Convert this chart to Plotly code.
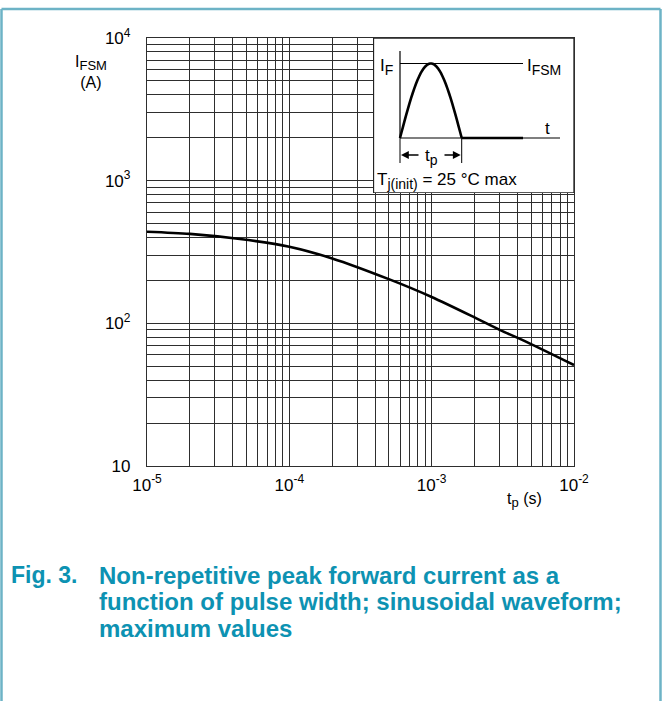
import numpy as np
import plotly.graph_objects as go

# ---- data ----
tp_s = [1e-5, 2e-5, 4.5e-5, 1e-4, 2e-4, 5e-4, 1e-3, 2e-3, 3e-3, 4.4e-3, 1e-2]
ifsm_a = [439, 424, 390, 344, 285, 204, 153, 110, 90, 76, 51]

x_tickvals = [1e-5, 1e-4, 1e-3, 1e-2]
x_ticktext = ["10<sup><span style='font-size:12px'>-5</span></sup>",
              "10<sup><span style='font-size:12px'>-4</span></sup>",
              "10<sup><span style='font-size:12px'>-3</span></sup>",
              "10<sup><span style='font-size:12px'>-2</span></sup>"]
y_tickvals = [10, 100, 1000, 10000]
y_ticktext = ["10",
              "10<sup><span style='font-size:12px'>2</span></sup>",
              "10<sup><span style='font-size:12px'>3</span></sup>",
              "10<sup><span style='font-size:12px'>4</span></sup>"]

caption_lines = [
    "Non-repetitive peak forward current as a",
    "function of pulse width; sinusoidal waveform;",
    "maximum values",
]

# ---- geometry (screen pixels) ----
W_FIG, H_FIG = 662, 701
L, R, T, B = 147, 574, 38, 466
PW, PH = R - L, B - T


def px(x):
    return (x - L) / PW


def py(y):
    return (B - y) / PH


FONT = "Liberation Sans, Arial, sans-serif"
GRID = "#2e2e2e"
TEAL = "#0d92b2"


def sub(s, size):
    return f"<sub><span style='font-size:{size}px'>{s}</span></sub>"


minor_x = [m * 10.0 ** k for k in range(-5, -2) for m in range(2, 10)]
minor_y = [m * 10.0 ** k for k in range(1, 4) for m in range(2, 10)]

fig = go.Figure()
fig.add_trace(go.Scatter(x=tp_s, y=ifsm_a, mode="lines",
                         line=dict(color="black", width=2.6, shape="spline", smoothing=0.8),
                         showlegend=False, hoverinfo="skip"))

# inset subplot in pixel-like units
fig.add_trace(go.Scatter(x=[None], y=[None], xaxis="x2", yaxis="y2", showlegend=False,
                         hoverinfo="skip"))

fig.update_layout(
    width=W_FIG, height=H_FIG,
    margin=dict(l=L, r=W_FIG - R, t=T, b=H_FIG - B, pad=0),
    paper_bgcolor="white", plot_bgcolor="white",
    font=dict(family=FONT, size=16, color="black"),
    hovermode=False,
    xaxis=dict(type="log", range=[-5, -2], tickvals=x_tickvals, ticktext=x_ticktext,
               showgrid=True, gridcolor=GRID, gridwidth=1.2,
               minor=dict(tickvals=minor_x, showgrid=True, gridcolor=GRID, gridwidth=1.2, ticks=""),
               showline=True, linecolor=GRID, linewidth=1.2, mirror=True,
               ticks="", zeroline=False, tickfont=dict(size=17), ticklabelstandoff=3),
    yaxis=dict(type="log", range=[1, 4], tickvals=y_tickvals, ticktext=y_ticktext,
               showgrid=True, gridcolor=GRID, gridwidth=1.2,
               minor=dict(tickvals=minor_y, showgrid=True, gridcolor=GRID, gridwidth=1.2, ticks=""),
               showline=True, linecolor=GRID, linewidth=1.2, mirror=True,
               ticks="", zeroline=False, tickfont=dict(size=17), ticklabelstandoff=12),
    xaxis2=dict(domain=[px(373), 1], range=[373, 574], visible=False, anchor="y2"),
    yaxis2=dict(domain=[py(193), 1], range=[193, 38], visible=False, anchor="x2"),
)

shapes = []
# inset box
shapes.append(dict(type="rect", xref="x2", yref="y2", x0=373.5, x1=574, y0=38, y1=193,
                   fillcolor="white", line=dict(color="#222", width=1.3), layer="above"))
# inset axes
shapes.append(dict(type="line", xref="x2", yref="y2", x0=400, x1=400, y0=51, y1=138,
                   line=dict(color="black", width=1.2), layer="above"))
shapes.append(dict(type="line", xref="x2", yref="y2", x0=400, x1=560, y0=138, y1=138,
                   line=dict(color="black", width=1.2), layer="above"))
shapes.append(dict(type="line", xref="x2", yref="y2", x0=400, x1=523, y0=63.5, y1=63.5,
                   line=dict(color="black", width=1.2), layer="above"))
# half-sine pulse (schematic of the waveform)
xs = np.linspace(400, 461.7, 40)
ys = 138 - (138 - 63.5) * np.sin(np.pi * (xs - 400) / (461.7 - 400))
path = "M " + " L ".join(f"{a:.2f},{b:.2f}" for a, b in zip(xs, ys))
shapes.append(dict(type="path", xref="x2", yref="y2", path=path,
                   line=dict(color="black", width=2.6), layer="above"))
shapes.append(dict(type="line", xref="x2", yref="y2", x0=461.7, x1=523, y0=138, y1=138,
                   line=dict(color="black", width=2.6), layer="above"))
# dimension ticks
for xv in (400, 461.7):
    shapes.append(dict(type="line", xref="x2", yref="y2", x0=xv, x1=xv, y0=138, y1=163,
                       line=dict(color="black", width=1), layer="above"))

# outer frame (left, top, right)
fc = "#6db3c6"
shapes.append(dict(type="line", xref="paper", yref="paper", x0=px(1.5), x1=px(660.5), y0=py(9), y1=py(9),
                   line=dict(color=fc, width=2.5), layer="above"))
shapes.append(dict(type="line", xref="paper", yref="paper", x0=px(1.5), x1=px(1.5), y0=py(9), y1=py(702),
                   line=dict(color=fc, width=2.5), layer="above"))
shapes.append(dict(type="line", xref="paper", yref="paper", x0=px(660.5), x1=px(660.5), y0=py(9), y1=py(702),
                   line=dict(color=fc, width=2.5), layer="above"))
fig.update_layout(shapes=shapes)

ann = []
# axis titles
ann.append(dict(xref="paper", yref="paper", x=px(91), y=py(72),
                text="I" + sub("FSM", 13) + "<br>(A)",
                showarrow=False, xanchor="center", yanchor="middle", font=dict(size=16), align="center"))
ann.append(dict(xref="paper", yref="paper", x=px(524), y=py(500), text="t" + sub("p", 13) + " (s)",
                showarrow=False, xanchor="center", yanchor="middle", font=dict(size=16)))
# inset texts
ann.append(dict(xref="x2", yref="y2", x=378, y=67, text="I" + sub("F", 14), showarrow=False,
                xanchor="left", yanchor="middle", font=dict(size=17)))
ann.append(dict(xref="x2", yref="y2", x=525, y=67, text="I" + sub("FSM", 14), showarrow=False,
                xanchor="left", yanchor="middle", font=dict(size=17)))
ann.append(dict(xref="x2", yref="y2", x=547, y=128, text="t", showarrow=False,
                xanchor="center", yanchor="middle", font=dict(size=17)))
ann.append(dict(xref="x2", yref="y2", x=431, y=157, text="t" + sub("p", 14), showarrow=False,
                xanchor="center", yanchor="middle", font=dict(size=17)))
ann.append(dict(xref="x2", yref="y2", x=375, y=181,
                text="T" + sub("j(init)", 14) + " = 25 °C max",
                showarrow=False, xanchor="left", yanchor="middle", font=dict(size=17)))
# dimension arrows
ann.append(dict(xref="x2", yref="y2", x=401, y=155, ax=420, ay=155, axref="x2", ayref="y2",
                text="", showarrow=True, arrowhead=2, arrowsize=1.2, arrowwidth=1.3, arrowcolor="black"))
ann.append(dict(xref="x2", yref="y2", x=460.7, y=155, ax=443, ay=155, axref="x2", ayref="y2",
                text="", showarrow=True, arrowhead=2, arrowsize=1.2, arrowwidth=1.3, arrowcolor="black"))
# caption
ann.append(dict(xref="paper", yref="paper", x=px(9), y=py(575), text="Fig. 3.", showarrow=False,
                xanchor="left", yanchor="middle", font=dict(size=23, color=TEAL, weight="bold")))
for i, line in enumerate(caption_lines):
    ann.append(dict(xref="paper", yref="paper", x=px(97), y=py(575 + 26.5 * i), text=line,
                    showarrow=False, xanchor="left", yanchor="middle",
                    font=dict(size=24, color=TEAL, weight="bold")))
fig.update_layout(annotations=ann)

fig.write_html("out.html", config={"displayModeBar": False},
               post_script="document.body.style.margin='0px';")
